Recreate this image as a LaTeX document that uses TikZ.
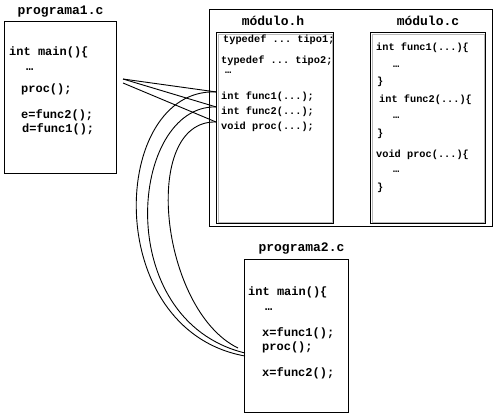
\documentclass[tikz,border=0pt]{standalone}
\usepackage{fontspec}
\setmonofont{Liberation Mono}
\usetikzlibrary{positioning}
\tikzset{
    filebox/.style={draw, line width=1pt, anchor=north west, inner sep=0pt},
    inset/.style={draw=gray!55, line width=0.7pt},
    fname/.style={font=\ttfamily\bfseries\fontsize{13}{15}\selectfont, inner sep=0pt},
    code/.style={font=\ttfamily\bfseries\fontsize{12}{14}\selectfont, anchor=west, inner sep=0pt},
    hcode/.style={font=\ttfamily\bfseries\fontsize{10.3}{12}\selectfont, anchor=west, inner sep=0pt},
    call/.style={line width=0.9pt}
}

\begin{document}
\begin{tikzpicture}[x=1pt, y=-1pt]
    \useasboundingbox (0,0) rectangle (496,413);

    % programa1.c
    \node [filebox, minimum width=112pt, minimum height=152pt] (prog1) at (4,21) {};
    \node [fname, above=4pt of prog1] (prog1name) {programa1.c};
    \node [code] (p1main) at (9,52) {int main()\{};
    \node [code] (p1dots) at (26,70) {…};
    \node [code] (p1proc) at (21,89) {proc();};
    \node [code] (p1e) at (21,115) {e=func2();};
    \node [code] (p1d) at (22,129) {d=func1();};

    % modulo (.h and .c)
    \node [filebox, minimum width=283pt, minimum height=217pt] (mod) at (209,9) {};
    \node [filebox, minimum width=117pt, minimum height=191pt] (modh) at (216,32) {};
    \node [filebox, minimum width=115pt, minimum height=191pt] (modc) at (370,32) {};
    \draw [inset] ([xshift=2pt, yshift=-2pt]modh.north west) rectangle ([xshift=-2pt, yshift=2pt]modh.south east);
    \draw [inset] ([xshift=2pt, yshift=-2pt]modc.north west) rectangle ([xshift=-2pt, yshift=2pt]modc.south east);
    \node [fname, above=6pt of modh, xshift=-2pt] (modhname) {módulo.h};
    \node [fname, above=6pt of modc] (modcname) {módulo.c};

    \node [hcode] (ht1) at (223,40) {typedef ... tipo1;};
    \node [hcode] (ht2) at (221,61) {typedef ... tipo2;};
    \node [hcode] (hdots) at (225,73) {…};
    \node [hcode] (h1) at (221,97) {int func1(...);};
    \node [hcode] (h2) at (221,112) {int func2(...);};
    \node [hcode] (h3) at (221,127) {void proc(...);};

    \node [hcode] (c1) at (376,48) {int func1(...)\{};
    \node [hcode] (c1dots) at (393,67) {…};
    \node [hcode] (c1end) at (377,82) {\}};
    \node [hcode] (c2) at (379,100) {int func2(...)\{};
    \node [hcode] (c2dots) at (393,118) {…};
    \node [hcode] (c2end) at (377,134) {\}};
    \node [hcode] (c3) at (376,155) {void proc(...)\{};
    \node [hcode] (c3dots) at (393,172) {…};
    \node [hcode] (c3end) at (377,188) {\}};

    % programa2.c
    \node [filebox, minimum width=104pt, minimum height=153pt] (prog2) at (244,259) {};
    \node [fname, above=5pt of prog2, xshift=5pt] (prog2name) {programa2.c};
    \node [code] (p2main) at (248,292) {int main()\{};
    \node [code] (p2dots) at (265,310) {…};
    \node [code] (p2x1) at (262,333) {x=func1();};
    \node [code] (p2proc) at (262,347) {proc();};
    \node [code] (p2x2) at (262,373) {x=func2();};

    % calls from programa1.c
    \coordinate (from1) at (123,79);
    \coordinate (from2) at (123,83);
    \draw [call] (from1) -- (modh.west |- h1.north);
    \draw [call] (from1) -- (modh.west |- h2.north);
    \draw [call] (from2) -- (modh.west |- h3.north);

    % calls from programa2.c
    \coordinate (to1) at (245,356);
    \coordinate (to2) at (245,353);
    \coordinate (to3) at (238,348);
    \draw [call] (modh.west |- h1.north) .. controls (110,88) and (100,330) .. (to1);
    \draw [call] (modh.west |- h2.north) .. controls (130,105) and (110,320) .. (to2);
    \draw [call] (modh.west |- h3.north) .. controls (140,120) and (160,310) .. (to3);
\end{tikzpicture}
\end{document}
